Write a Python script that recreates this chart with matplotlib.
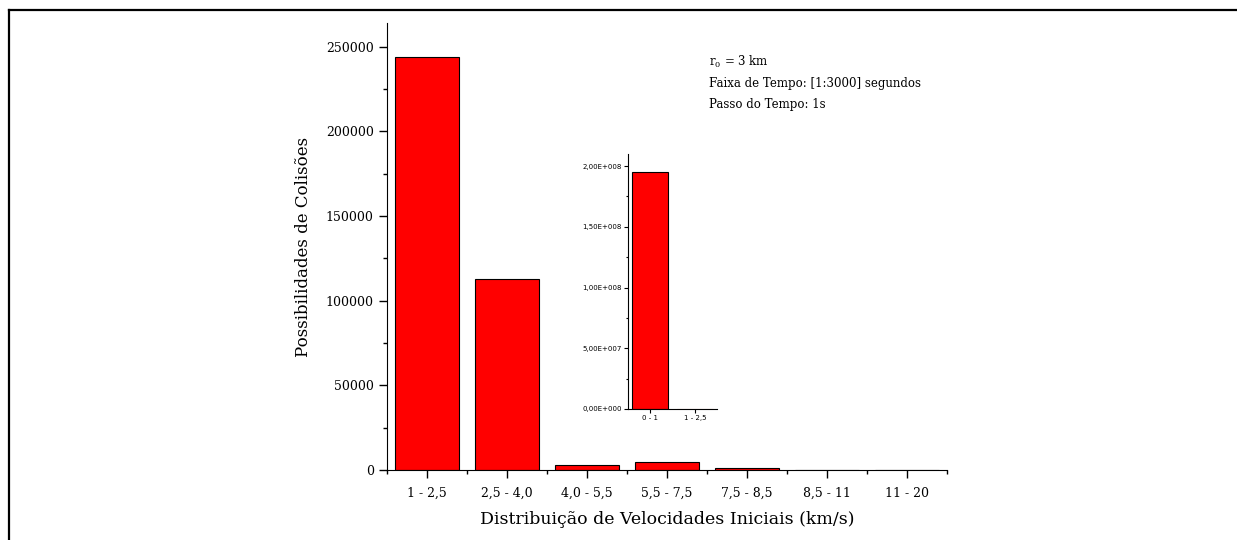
import numpy as np
import matplotlib
matplotlib.use("Agg")
import matplotlib.pyplot as plt
from matplotlib.ticker import MultipleLocator, FixedLocator, FuncFormatter
from matplotlib.lines import Line2D

# main histogram
categories = ["1 - 2,5", "2,5 - 4,0", "4,0 - 5,5", "5,5 - 7,5", "7,5 - 8,5", "8,5 - 11", "11 - 20"]
collisions = [244000, 113000, 3100, 4700, 1200, 150, 50]

# inset
inset_categories = ["0 - 1", "1 - 2,5"]
inset_collisions = [1.95e8, 244000]

info_lines = ["r$_{\\mathregular{0}}$ = 3 km",
              "Faixa de Tempo: [1:3000] segundos",
              "Passo do Tempo: 1s"]

serif = "DejaVu Serif"

def sci_comma(v, pos):
    if v == 0:
        return "0,00E+000"
    e = int(np.floor(np.log10(abs(v))))
    m = v / 10**e
    return ("%.2f" % m).replace(".", ",") + "E+%03d" % e

fig = plt.figure(figsize=(12.37, 5.4), dpi=100)

ax = fig.add_axes([387/1237, 1-470/540, 560/1237, 447/540])
x = np.arange(len(categories))
ax.bar(x, collisions, width=0.8, color="#ff0000", edgecolor="black", linewidth=0.8)
ax.set_xlim(-0.5, 6.5)
ax.set_ylim(0, 264000)
ax.spines["top"].set_visible(False)
ax.spines["right"].set_visible(False)
ax.set_xticks(x)
ax.set_xticklabels(categories, fontfamily=serif, fontsize=9)
ax.xaxis.set_minor_locator(FixedLocator(np.arange(-0.5, 7, 1.0)))
ax.yaxis.set_major_locator(MultipleLocator(50000))
ax.yaxis.set_minor_locator(MultipleLocator(25000))
for lab in ax.get_yticklabels():
    lab.set_fontfamily(serif)
    lab.set_fontsize(9)
ax.tick_params(which="major", direction="out", length=6, width=1)
ax.tick_params(axis="x", pad=6)
ax.tick_params(which="minor", direction="out", length=3, width=1)
ax.set_xlabel("Distribuição de Velocidades Iniciais (km/s)", fontfamily=serif, fontsize=12.5, labelpad=8)
ax.set_ylabel("Possibilidades de Colisões", fontfamily=serif, fontsize=12, labelpad=10)

for i, t in enumerate(info_lines):
    fig.text(709/1237, 1 - (62 + 21*i)/540, t, fontfamily=serif, fontsize=8.5, va="center")

ins = fig.add_axes([628/1237, 1-409/540, 89/1237, 255/540])
xi = np.arange(len(inset_categories))
ins.bar(xi, inset_collisions, width=0.8, color="#ff0000", edgecolor=["black", "#e08080"], linewidth=0.8)
ins.set_xlim(-0.5, 1.5)
ins.set_ylim(0, 2.1e8)
ins.spines["top"].set_visible(False)
ins.spines["right"].set_visible(False)
ins.set_xticks(xi)
ins.set_xticklabels(inset_categories, fontsize=5)
ins.yaxis.set_major_locator(MultipleLocator(5e7))
ins.yaxis.set_minor_locator(MultipleLocator(2.5e7))
ins.yaxis.set_major_formatter(FuncFormatter(sci_comma))
ins.tick_params(axis="y", labelsize=5)
ins.tick_params(which="major", direction="out", length=3, width=0.8, pad=1.5)
ins.tick_params(which="minor", direction="out", length=1.5, width=0.8)

# page frame
fig.add_artist(Line2D([8.5/1237, 8.5/1237], [0, 1-9.5/540], color="black", lw=1.6))
fig.add_artist(Line2D([8.5/1237, 1236/1237], [1-9.5/540, 1-9.5/540], color="black", lw=1.6))

fig.savefig("out.png", dpi=100)
